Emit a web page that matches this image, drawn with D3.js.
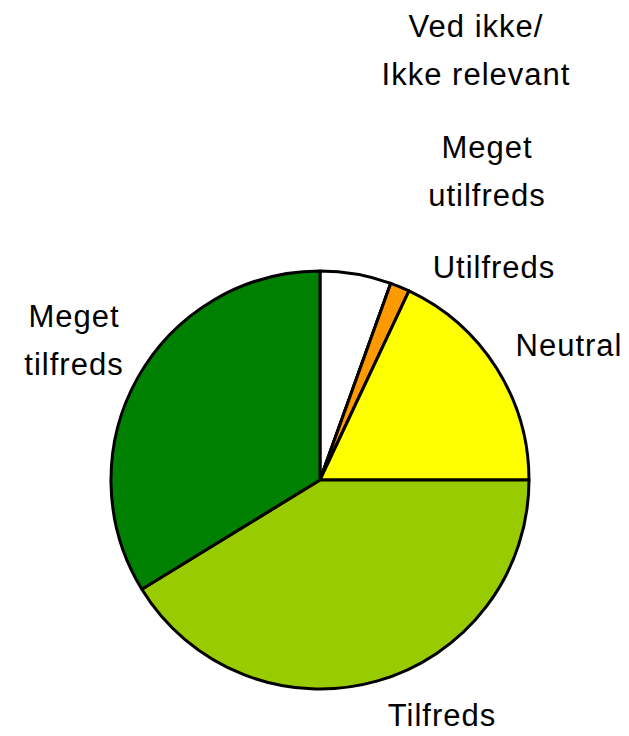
<!DOCTYPE html>
<html>
<head>
<meta charset="utf-8">
<script src="https://cdn.jsdelivr.net/npm/d3@7"></script>
<style>
  body { margin: 0; background: #fff; }
  text { font-family: "Liberation Sans", Arial, sans-serif; font-size: 31px; letter-spacing: 1px; fill: #000; }
</style>
</head>
<body>
<div class="container"></div>
<script>
const w = 629;
const h = 736;

// Data, clockwise from 12 o'clock (percent)
const categories = ['Ved ikke/ Ikke relevant', 'Meget utilfreds', 'Utilfreds', 'Neutral', 'Tilfreds', 'Meget tilfreds'];
const values = [5.5, 0, 1.5, 18, 41.25, 33.75];
const colors = ['#ffffff', '#ff0000', '#ff9900', '#ffff00', '#99cc00', '#008000'];
const labelLines = [['Ved ikke/', 'Ikke relevant'], ['Meget', 'utilfreds'], ['Utilfreds'], ['Neutral'], ['Tilfreds'], ['Meget', 'tilfreds']];

// Label placement (centre x, first baseline y)
const labelPos = [[476, 37], [487, 158], [494, 278], [569, 356], [442, 726], [74, 327]];

const cx = 320;
const cy = 480;
const r = 209;

const svg = d3.select('.container')
  .append('svg')
  .attr('width', w)
  .attr('height', h);

const pie = d3.pie()
  .sort(null)
  .value((d) => d);

const arc = d3.arc()
  .innerRadius(0)
  .outerRadius(r);

// Slices
svg.append('g')
  .attr('transform', 'translate(' + cx + ',' + cy + ')')
  .selectAll('path')
  .data(pie(values))
  .enter()
  .append('path')
  .attr('d', arc)
  .attr('fill', (d, i) => colors[i])
  .attr('stroke', '#000')
  .attr('stroke-width', 3)
  .attr('stroke-linejoin', 'round');

// Labels
const labels = svg.selectAll('.label')
  .data(categories)
  .enter()
  .append('text')
  .attr('class', 'label')
  .attr('text-anchor', 'middle')
  .attr('x', (d, i) => labelPos[i][0])
  .attr('y', (d, i) => labelPos[i][1]);

labels.selectAll('tspan')
  .data((d, i) => labelLines[i].map((t) => ({ t: t, x: labelPos[i][0] })))
  .enter()
  .append('tspan')
  .attr('x', (d) => d.x)
  .attr('dy', (d, j) => (j === 0 ? 0 : 48))
  .text((d) => d.t);
</script>
</body>
</html>
